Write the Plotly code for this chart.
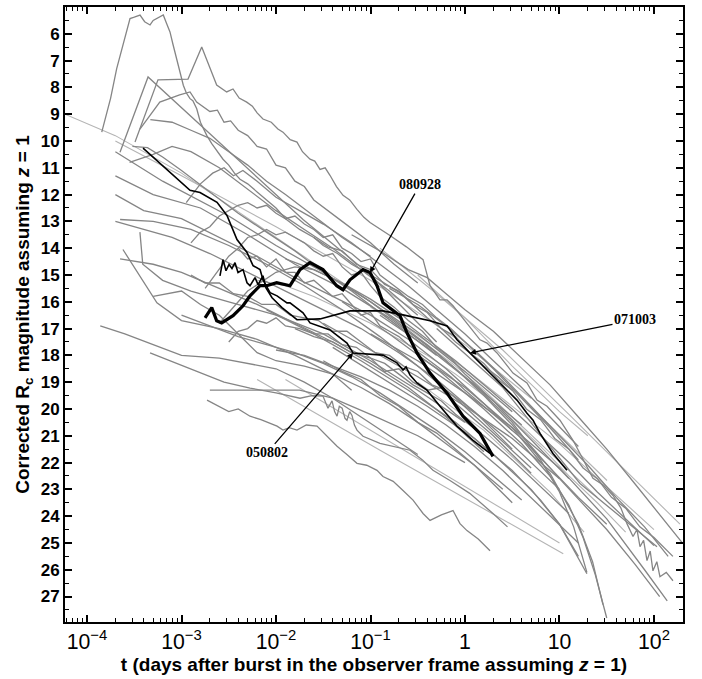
import plotly.graph_objects as go

# ---------------- highlighted bursts: log10(t/day), magnitude ----------------
grb080928_lt = [-2.751, -2.680, -2.628, -2.575, -2.455, -2.349, -2.275, -2.169, -2.098, -1.993,
                -1.852, -1.746, -1.640, -1.503, -1.358, -1.291, -1.217, -1.079, -1.005, -0.931,
                -0.868, -0.688, -0.614, -0.508, -0.370, -0.190, -0.021, 0.159, 0.296]
grb080928_mag = [16.60, 16.22, 16.71, 16.79, 16.52, 16.15, 15.78, 15.40, 15.40, 15.29,
                 15.40, 14.80, 14.54, 14.80, 15.40, 15.55, 15.18, 14.80, 14.91, 15.40,
                 16.04, 16.52, 17.16, 17.91, 18.66, 19.41, 20.27, 20.91, 21.77]

grb050802_lt = [-3.407, -3.153, -2.910, -2.804, -2.624, -2.519, -2.413, -2.307, -2.243, -2.169,
                -2.138, -2.063, -1.989, -1.884, -1.852, -1.714, -1.640, -1.429, -1.249, -1.185,
                -0.868, -0.720, -0.656, -0.624, -0.582, -0.508, -0.402, -0.265, -0.085, 0.085, 0.265]
grb050802_mag = [10.27, 11.06, 11.84, 11.92, 12.29, 12.78, 13.68, 14.16, 14.65, 14.80,
                 15.18, 15.66, 15.78, 16.04, 16.04, 16.41, 16.79, 17.05, 17.54, 17.91,
                 17.99, 18.28, 18.55, 18.43, 18.73, 19.03, 19.30, 19.90, 20.64, 21.17, 21.66]

grb071003_lt = [-2.593, -2.561, -2.529, -2.497, -2.466, -2.434, -2.402, -2.349, -2.307, -2.275,
                -2.222, -2.190, -2.138, -2.106, -2.042, -1.937, -1.778, -1.534, -1.217, -0.868,
                -0.656, -0.370, -0.190, -0.085, 0.053, 0.159, 0.339, 0.550, 0.656, 0.720,
                0.794, 0.931, 1.079]
grb071003_mag = [15.03, 14.43, 14.84, 14.61, 14.76, 14.54, 14.91, 14.80, 15.29, 15.40,
                 15.10, 15.36, 15.03, 15.48, 15.85, 16.22, 16.67, 16.64, 16.34, 16.34,
                 16.49, 16.71, 16.90, 17.42, 17.91, 18.28, 18.92, 19.67, 20.16, 20.42,
                 20.91, 21.66, 22.29]

# ---------------- other afterglows (grey) ----------------
g_peak = ([-3.844, -3.75, -3.686, -3.60, -3.545, -3.50, -3.439, -3.39, -3.333, -3.30, -3.262, -3.23,
           -3.193, -3.16, -3.122, -3.09, -3.051, -3.02, -2.981, -2.95, -2.910, -2.88, -2.839, -2.80,
           -2.733, -2.68, -2.62, -2.561, -2.50, -2.44, -2.381, -2.30, -2.2, -2.1, -2.0, -1.9, -1.75,
           -1.6, -1.5, -1.35, -1.2, -1.05, -0.9, -0.69, -0.55, -0.4, -0.25, -0.1, 0.05, 0.2, 0.35, 0.5],
          [9.67, 8.4, 7.30, 6.1, 5.43, 5.38, 5.30, 5.55, 5.67, 5.5, 5.43, 5.35,
           5.30, 5.6, 5.93, 6.4, 6.92, 7.3, 7.92, 8.2, 8.42, 8.5, 8.80, 9.3,
           9.79, 10.1, 10.4, 10.68, 10.9, 11.2, 11.43, 11.6, 11.9, 12.2, 12.5, 12.9, 13.3,
           13.6, 13.9, 14.2, 14.6, 14.9, 15.2, 15.66, 16.1, 16.6, 17.0, 17.5, 17.9, 18.4, 18.8, 19.3])
g_long = ([-3.492, -3.249, -2.931, -2.786, -2.628, -2.522, -2.455, -2.39, -2.310, -2.25, -2.20, -2.138,
           -2.05, -1.98, -1.926, -1.85, -1.778, -1.72, -1.640, -1.59, -1.534, -1.48, -1.429, -1.36,
           -1.291, -1.22, -1.143, -1.07, -1.005, -0.90, -0.794, -0.62, -0.444, -0.370, -0.265, -0.190,
           -0.127, 0.0, 0.159, 0.233, 0.339, 0.508, 0.656, 0.762, 0.868, 1.005, 1.143, 1.217, 1.354,
           1.466, 1.566, 1.65, 1.714, 1.778, 1.82, 1.852, 1.89, 1.926, 1.96, 1.989, 2.03, 2.063, 2.13, 2.201],
          [10.04, 7.72, 7.69, 6.49, 7.91, 8.17, 8.06, 8.40, 8.55, 8.70, 8.95, 9.18,
           9.30, 9.55, 9.67, 9.95, 10.04, 10.40, 10.68, 10.75, 11.06, 11.00, 11.28, 11.70,
           12.03, 12.20, 12.55, 12.85, 13.04, 13.30, 13.53, 13.95, 14.43, 15.40, 15.93, 15.93,
           16.15, 16.71, 17.42, 17.54, 17.91, 18.66, 19.03, 19.67, 19.90, 20.42, 21.17, 21.66, 22.59,
           22.85, 23.23, 23.70, 24.28, 24.76, 24.50, 25.14, 24.90, 25.66, 25.30, 26.04, 25.70, 26.26, 26.10, 26.41])
g_lambda = ([-3.651, -3.354, -1.714, -1.0, -0.3], [10.42, 7.61, 12.93, 15.0, 17.5])
g_plateau = ([-3.44, -3.23, -3.02, -2.91, -2.84, -2.7, -2.62, -2.55, -2.48, -2.4, -2.3, -2.2, -2.1,
              -2.0, -1.9, -1.8, -1.7, -1.6, -1.3, -1.0, -0.75, -0.5],
             [9.56, 8.55, 8.28, 8.17, 8.55, 8.9, 8.85, 9.3, 9.25, 9.6, 9.8, 10.2, 10.3,
              10.9, 11.0, 11.5, 11.7, 12.2, 13.0, 13.8, 14.6, 15.3])
g_edge = ([-4.233, -3.7, -3.0, -2.0, -1.0, 0.0, 1.0, 2.0], [9.0, 9.8, 11.2, 13.6, 16.0, 18.5, 21.3, 24.5])
g_low = ([-2.730, -2.6, -2.5, -2.40, -2.275, -2.16, -2.063, -1.989, -1.926, -1.86, -1.778, -1.68, -1.566,
          -1.46, -1.354, -1.25, -1.143, -1.04, -0.931, -0.868, -0.76, -0.656, -0.55, -0.444, -0.370,
          -0.25, -0.127, -0.053, 0.021, 0.14, 0.265],
         [19.67, 19.9, 20.1, 20.0, 20.27, 20.4, 20.53, 20.64, 20.79, 20.70, 20.79, 20.60, 20.64,
          21.0, 21.39, 21.7, 22.03, 22.1, 22.29, 22.52, 22.70, 23.04, 23.40, 23.90, 24.16,
          23.95, 23.79, 24.28, 24.54, 24.85, 25.29])
g_low2 = ([-3.333, -3.05, -2.804, -2.55, -2.275, -2.0, -1.746, -1.62, -1.503, -1.45, -1.407, -1.38, -1.354,
           -1.33, -1.30, -1.27, -1.249, -1.22, -1.196, -1.17, -1.143, -1.079, -0.9, -0.75, -0.582, -0.45,
           -0.339, -0.159, 0.05, 0.296, 0.45],
          [17.91, 18.30, 18.66, 19.0, 19.22, 19.4, 19.6, 19.5, 19.52, 19.97, 19.70, 20.10, 20.27,
           19.90, 19.97, 20.35, 20.42, 20.10, 20.24, 20.60, 20.79, 21.02, 21.28, 21.40, 21.54, 21.90,
           22.29, 22.67, 23.15, 23.90, 24.40])
g_flat = ([-2.7, -1.75, -1.4, -1.0, -0.5, 0.0], [19.3, 19.3, 19.6, 20.2, 21.0, 22.0])
g_str1 = ([-2.2, -0.899, 1.04], [18.9, 21.54, 25.4])
g_str2 = ([-1.9, -0.9, 1.0], [18.9, 21.0, 25.0])
g_r2 = ([-0.5, 0.0, 0.5, 1.0, 1.3], [15.0, 16.6, 18.4, 20.1, 21.0])
g_r3 = ([0.656, 1.503], [19.78, 22.67])
g_r4 = ([-0.3, 0.4, 1.217, 2.032], [17.0, 19.2, 22.78, 25.14])
g_r5 = ([-0.9, -0.3, 0.4, 1.1, 1.7, 2.275], [14.0, 15.7, 17.8, 20.2, 22.3, 24.3])
b01 = ([-3.7, -3.0, -2.0, -1.0, 0.0, 0.7], [10.0, 11.3, 13.2, 15.2, 17.6, 19.6])
b02 = ([-3.7, -3.2, -2.5, -2.0, -1.5, -1.0, -0.5, 0.0, 0.5], [10.4, 11.5, 12.8, 13.9, 14.9, 16.0, 17.2, 18.6, 20.1])
b03 = ([-3.7, -3.3, -2.8, -2.3, -1.8, -1.3, -0.8, -0.3, 0.2, 0.6],
       [11.3, 12.0, 12.5, 13.5, 14.6, 15.5, 16.6, 17.9, 19.4, 20.6])
b04 = ([-3.7, -3.4, -3.0, -2.6, -2.2, -1.8, -1.4, -1.0, -0.6, -0.2, 0.2, 0.5],
       [12.0, 12.6, 12.9, 13.6, 14.3, 15.1, 15.8, 16.5, 17.4, 18.5, 19.8, 20.8])
b05 = ([-3.7, -3.4, -3.1, -2.7, -2.3, -1.9, -1.5, -1.1, -0.7, -0.3, 0.1, 0.5],
       [13.0, 13.3, 13.6, 14.2, 14.9, 15.6, 16.3, 17.0, 17.9, 18.9, 20.1, 21.5])
b06 = ([-3.65, -3.3, -3.0, -2.6, -2.2, -1.8, -1.4, -1.0, -0.6, -0.2, 0.2],
       [14.4, 14.6, 14.9, 15.5, 16.1, 16.8, 17.5, 18.3, 19.2, 20.3, 21.6])
b07 = ([-3.62, -3.26, -3.0, -2.6, -2.2, -1.8, -1.4, -1.2], [14.05, 16.04, 16.7, 17.0, 17.4, 18.0, 18.7, 19.3])
b08 = ([-3.65, -3.3, -2.9, -2.5, -2.1, -1.7, -1.3, -0.9, -0.5, -0.1, 0.3, 0.7],
       [12.93, 13.0, 13.3, 13.9, 14.6, 15.4, 16.3, 17.3, 18.4, 19.6, 20.9, 22.2])
b09 = ([-3.44, -3.41, -3.2, -2.9, -2.5, -2.0, -1.5, -1.0, -0.5, 0.0],
       [13.4, 14.6, 15.2, 15.6, 16.0, 16.5, 17.2, 18.2, 19.3, 20.5])
b10 = ([-2.95, -2.8, -2.67, -2.55, -2.45, -2.35, -2.2, -2.0, -1.75, -1.5, -1.2, -0.9, -0.6, -0.3, 0.0, 0.3, 0.6, 0.9, 1.2],
       [12.3, 11.6, 11.2, 11.0, 11.3, 11.1, 11.5, 12.1, 12.6, 13.1, 13.8, 14.6, 15.4, 16.3, 17.2, 18.2, 19.2, 20.3, 21.4])
b11 = ([-2.9, -2.8, -2.7, -2.6, -2.5, -2.4, -2.3, -2.2, -2.1, -2.0, -1.9, -1.8, -1.7, -1.6, -1.5, -1.4, -1.3,
        -1.2, -1.1, -1.0, -0.9, -0.75, -0.6, -0.45, -0.3, -0.15, 0.0, 0.3, 0.6, 0.9, 1.2],
       [13.8, 13.4, 13.2, 12.8, 12.6, 12.4, 12.3, 12.5, 12.4, 12.7, 12.9, 12.8, 13.1, 13.3, 13.6, 13.5, 14.0,
        14.2, 14.5, 14.4, 15.0, 15.4, 15.8, 16.1, 16.6, 17.0, 17.5, 18.5, 19.6, 20.7, 21.9])
b12 = ([-2.75, -2.6, -2.5, -2.4, -2.3, -2.2, -2.1, -2.0, -1.9, -1.8, -1.7, -1.6, -1.5, -1.4, -1.3, -1.2, -1.1,
        -1.0, -0.9, -0.75, -0.6, -0.45, -0.3, -0.15, 0.0, 0.3, 0.6, 0.9, 1.1],
       [15.5, 14.8, 14.3, 14.0, 13.6, 13.5, 13.3, 13.5, 13.4, 13.6, 13.8, 14.1, 14.3, 14.2, 14.7, 15.0, 14.9,
        15.4, 15.8, 16.2, 16.7, 17.1, 17.7, 18.1, 18.7, 19.7, 20.8, 21.9, 22.6])
b13 = ([-2.6, -2.3, -2.0, -1.8, -1.6, -1.3, -1.0, -0.7, -0.4, -0.1, 0.2, 0.5, 0.8, 1.0],
       [16.8, 15.6, 14.9, 14.7, 14.8, 15.3, 16.0, 16.8, 17.6, 18.5, 19.5, 20.6, 21.8, 22.6])
b14 = ([-2.4, -2.3, -2.2, -2.1, -2.0, -1.9, -1.8, -1.7, -1.6, -1.5, -1.4, -1.3, -1.2, -1.1, -1.0, -0.9, -0.8,
        -0.7, -0.6, -0.45, -0.3, -0.15, 0.0, 0.3, 0.6, 0.9, 1.2, 1.5],
       [14.0, 14.4, 14.3, 14.7, 14.4, 14.9, 14.9, 15.3, 15.2, 15.5, 15.8, 15.7, 16.1, 16.5, 16.4, 16.9, 17.1,
        17.3, 17.6, 18.0, 18.4, 18.8, 19.3, 20.2, 21.1, 22.2, 23.3, 24.3])
b15 = ([-2.9, -2.75, -2.6, -2.45, -2.3, -2.15, -2.0, -1.85, -1.7, -1.55, -1.4, -1.25, -1.1, -0.95, -0.8, -0.65,
        -0.5, -0.35, -0.2, 0.1, 0.4, 0.7, 1.0],
       [15.0, 15.3, 15.3, 15.7, 15.8, 16.1, 16.1, 16.5, 16.6, 16.7, 17.1, 17.1, 17.5, 17.9, 18.0, 18.4,
        18.6, 19.1, 19.3, 20.1, 21.0, 22.0, 23.0])
b16 = ([-3.0, -2.7, -2.4, -2.1, -1.8, -1.5, -1.2, -0.9, -0.6, -0.3, 0.0, 0.3, 0.6],
       [16.5, 16.9, 17.3, 17.6, 17.9, 18.3, 18.8, 19.4, 20.1, 20.8, 21.6, 22.5, 23.4])
b17 = ([-3.86, -3.6, -3.3, -3.0, -2.6, -2.3, -2.0, -1.7, -1.4, -1.1, -0.8, -0.5],
       [16.9, 17.2, 17.6, 18.0, 18.1, 18.3, 18.5, 19.0, 19.6, 20.3, 21.0, 21.7])
b18 = ([-3.3, -3.0, -2.8, -2.6, -2.4, -2.2, -2.0, -1.7, -1.4, -1.1, -0.8, -0.5, -0.2, 0.1, 0.4],
       [15.8, 15.6, 16.1, 16.5, 17.2, 17.9, 18.2, 18.4, 18.7, 19.2, 19.8, 20.5, 21.3, 22.1, 23.0])
b19 = ([-2.5, -2.4, -2.3, -2.2, -2.1, -2.0, -1.9, -1.75, -1.6, -1.45, -1.3, -1.15, -1.0, -0.85, -0.7, -0.55,
        -0.4, -0.25, -0.1, 0.2, 0.5, 0.8, 1.1],
       [17.5, 17.1, 17.0, 16.7, 16.8, 16.6, 16.9, 17.0, 17.2, 17.2, 17.6, 17.7, 18.1, 18.3, 18.7, 19.1,
        19.4, 19.7, 20.2, 21.0, 21.9, 22.9, 23.9])
b20 = ([-2.2, -1.9, -1.6, -1.3, -1.0, -0.7, -0.4, -0.1, 0.2, 0.5, 0.8, 1.1, 1.4, 1.7],
       [15.2, 15.4, 15.8, 16.3, 16.8, 17.4, 18.0, 18.7, 19.5, 20.4, 21.4, 22.5, 23.5, 24.6])
b21 = ([-1.9, -1.6, -1.3, -1.0, -0.7, -0.4, -0.1, 0.2, 0.5, 0.8, 1.1, 1.4, 1.7, 2.0],
       [14.4, 14.8, 15.3, 15.9, 16.6, 17.4, 18.2, 19.1, 20.0, 21.0, 22.0, 23.1, 24.1, 25.1])
b22 = ([-1.6, -1.45, -1.3, -1.15, -1.0, -0.85, -0.7, -0.55, -0.4, -0.25, -0.1, 0.05, 0.2, 0.35, 0.5, 0.65,
        0.8, 0.95, 1.1, 1.25, 1.4, 1.55, 1.7, 1.85, 2.0, 2.2],
       [13.6, 13.95, 14.1, 14.6, 14.8, 15.35, 15.6, 16.1, 16.4, 17.0, 17.3, 17.9, 18.3, 18.9, 19.3, 20.0,
        20.4, 21.1, 21.5, 22.2, 22.6, 23.3, 23.7, 24.4, 24.8, 25.5])
b23 = ([-1.2, -0.9, -0.6, -0.4, -0.2, 0.0, 0.3, 0.6, 0.9, 1.2, 1.5, 1.8, 2.1, 2.3],
       [13.5, 14.1, 14.8, 15.1, 15.7, 16.3, 17.1, 18.1, 19.1, 20.3, 21.5, 22.8, 24.1, 25.0])
b24 = ([-1.0, -0.7, -0.4, -0.1, 0.2, 0.5, 0.8, 1.1, 1.4], [16.2, 16.9, 17.6, 18.4, 19.3, 20.3, 21.3, 22.3, 23.3])
b25 = ([-0.8, -0.5, -0.2, 0.1, 0.4, 0.7, 1.0, 1.3, 1.6, 1.9, 2.15],
       [15.5, 16.1, 16.9, 17.8, 18.8, 19.9, 21.0, 22.1, 23.3, 24.4, 25.5])
b26 = ([-2.0, -1.7, -1.4, -1.1, -0.8, -0.5, -0.2, 0.1, 0.4, 0.7, 1.0, 1.2],
       [17.8, 18.0, 18.4, 18.8, 19.3, 19.9, 20.6, 21.4, 22.3, 23.3, 24.3, 25.0])
b28 = ([-1.5, -1.0, -0.5, 0.0, 0.5, 1.0, 1.5, 1.8, 2.06], [16.8, 17.8, 18.8, 19.9, 21.1, 22.6, 24.5, 25.8, 27.0])
b29 = ([-1.0, -0.5, 0.0, 0.5, 1.0, 1.5, 1.9, 2.14], [17.2, 18.2, 19.4, 20.7, 22.2, 24.1, 26.0, 27.16])
b30 = ([-1.3, -0.8, -0.3, 0.2, 0.6, 0.9, 1.1, 1.25, 1.38, 1.5],
       [16.0, 17.2, 18.5, 20.0, 21.3, 22.5, 23.6, 24.8, 26.2, 27.8])
b31 = ([-0.9, -0.4, 0.1, 0.5, 0.8, 1.0, 1.15, 1.29], [16.5, 17.7, 19.1, 20.5, 21.9, 23.1, 24.4, 26.1])
b32 = ([-1.4, -0.9, -0.4, 0.1, 0.5, 0.8, 1.0, 1.2], [17.7, 18.8, 19.9, 21.1, 22.3, 23.4, 24.3, 25.5])
b33 = ([-0.5, 0.0, 0.5, 0.9, 1.2, 1.35, 1.46], [18.0, 19.2, 20.7, 22.4, 24.3, 25.7, 27.3])
b34 = ([-2.1, -1.6, -1.1, -0.6, -0.1, 0.3, 0.7, 1.0, 1.29], [16.3, 17.2, 18.2, 19.3, 20.5, 21.7, 23.0, 24.3, 26.15])
b35 = ([-0.5, 0.2, 0.9, 1.26], [19.0, 20.8, 23.1, 24.6])
b36 = ([-1.8, -1.6, -1.4, -1.2, -1.0, -0.85, -0.7, -0.55, -0.4, -0.25, -0.1, 0.1, 0.3, 0.5, 0.7],
       [17.0, 17.3, 17.5, 17.9, 18.1, 18.6, 18.5, 19.0, 19.3, 19.2, 19.8, 20.4, 21.0, 21.7, 22.4])
b37 = ([-1.5, -1.3, -1.1, -0.9, -0.7, -0.5, -0.3, -0.1, 0.1, 0.3, 0.5],
       [18.2, 18.6, 18.9, 19.5, 19.9, 20.5, 20.9, 21.5, 22.1, 22.8, 23.5])
u01 = ([-3.55, -3.3, -3.1, -2.9, -2.6, -2.3, -2.0, -1.7, -1.4, -1.1, -0.8, -0.5],
       [10.8, 10.5, 10.2, 10.4, 11.0, 11.8, 12.6, 13.3, 14.0, 14.8, 15.6, 16.5])
u02 = ([-3.52, -3.36, -3.2, -3.0, -2.7, -2.4, -2.1, -1.8, -1.5, -1.2, -0.9, -0.6, -0.3],
       [10.2, 10.25, 10.6, 11.1, 11.9, 12.7, 13.4, 14.1, 14.9, 15.6, 16.4, 17.2, 18.0])
u03 = ([-3.33, -3.1, -2.9, -2.7, -2.5, -2.3, -2.1, -1.9, -1.6, -1.3, -1.0],
       [9.2, 9.3, 9.6, 9.9, 10.4, 10.9, 11.5, 12.0, 12.8, 13.6, 14.3])

dark_grey = [g_peak, g_long, g_lambda, g_plateau, g_low, g_low2, g_flat, g_r4,
             b02, b03, b04, b05, b06, b07, b08, b09, b10, b11, b12, b13, b14, b15, b16, b17, b18,
             b19, b21, b22, b23, b25, b26, b28, b29, b30, b31, b32, b33, b34, b36, b37, u01, u02, u03]
light_grey = [g_edge, g_str1, g_str2, g_r2, g_r3, g_r5, b01, b20, b24, b35]

fig = go.Figure()
for lt, mag in light_grey:
    fig.add_trace(go.Scatter(x=[10 ** v for v in lt], y=mag, mode="lines",
                             line=dict(color="#b4b4b4", width=1.1)))
for lt, mag in dark_grey:
    fig.add_trace(go.Scatter(x=[10 ** v for v in lt], y=mag, mode="lines",
                             line=dict(color="#858585", width=1.3)))
for lt, mag in [(grb050802_lt, grb050802_mag), (grb071003_lt, grb071003_mag)]:
    fig.add_trace(go.Scatter(x=[10 ** v for v in lt], y=mag, mode="lines",
                             line=dict(color="black", width=1.6)))
fig.add_trace(go.Scatter(x=[10 ** v for v in grb080928_lt], y=grb080928_mag, mode="lines",
                         line=dict(color="black", width=3.2)))

ann_font = dict(family="Liberation Serif", size=14, color="black", weight="bold")
labels = [("080928", grb080928_lt[18], grb080928_mag[18], 50, -88),
          ("071003", grb071003_lt[24], grb071003_mag[24], 165, -33),
          ("050802", grb050802_lt[19], grb050802_mag[19], -86, 100)]
for text, hx, hy, ax, ay in labels:
    fig.add_annotation(x=hx, y=hy, xref="x", yref="y", text=text, showarrow=True,
                       ax=ax, ay=ay, arrowhead=2, arrowsize=0.9, arrowwidth=1.3,
                       arrowcolor="black", font=ann_font)

fig.update_layout(
    width=702, height=679, showlegend=False, hovermode=False,
    plot_bgcolor="white", paper_bgcolor="white",
    margin=dict(l=65, r=19, t=5, b=57),
    font=dict(family="Liberation Sans", color="black"),
)
fig.update_xaxes(
    type="log", range=[-4.233, 2.307], dtick=1, exponentformat="power", showexponent="all",
    showgrid=False, zeroline=False, showline=True, linewidth=2, linecolor="black", mirror="allticks",
    ticks="inside", ticklen=7, tickwidth=1.6, tickcolor="black",
    minor=dict(ticks="inside", ticklen=4, tickwidth=1.2, tickcolor="black", dtick="D1", showgrid=False),
    tickfont=dict(size=17, family="Liberation Sans"),
    title=dict(text="t (days after burst in the observer frame assuming <i>z</i> = 1)",
               font=dict(size=19, family="Liberation Sans", weight="bold"), standoff=4),
)
fig.update_yaxes(
    range=[27.95, 5.0], dtick=1, tick0=0,
    showgrid=False, zeroline=False, showline=True, linewidth=2, linecolor="black", mirror="allticks",
    ticks="inside", ticklen=7, tickwidth=1.6, tickcolor="black",
    minor=dict(ticks="inside", ticklen=4, tickwidth=1.2, tickcolor="black", dtick=0.5, showgrid=False),
    tickfont=dict(size=17, family="Liberation Sans", weight="bold"),
    title=dict(text="Corrected R<sub>c</sub> magnitude assuming <i>z</i> = 1",
               font=dict(size=19, family="Liberation Sans", weight="bold"), standoff=6),
)
fig.write_html("out.html")
